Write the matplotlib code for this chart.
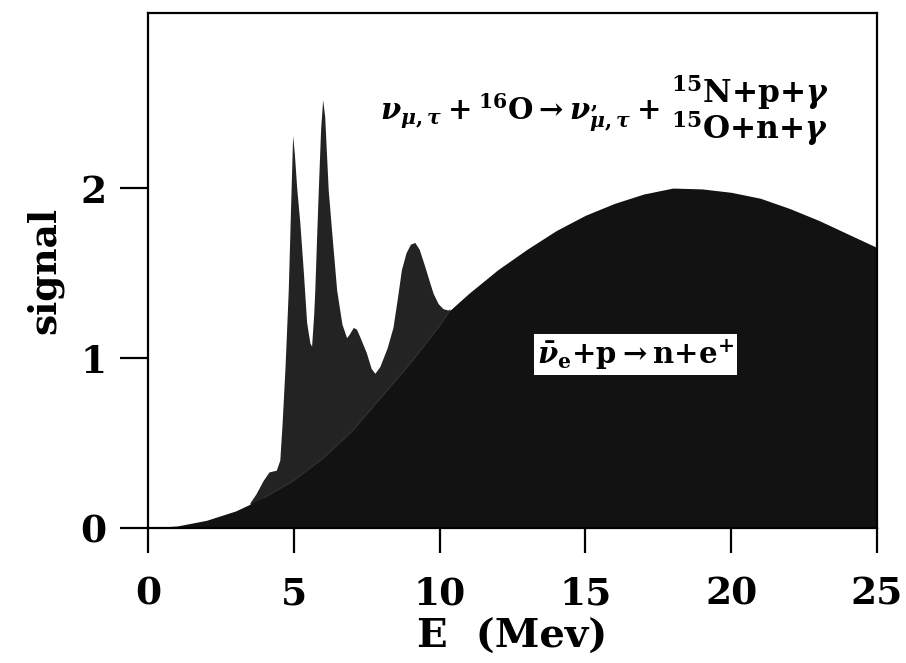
import matplotlib
matplotlib.use("Agg")
import matplotlib.pyplot as plt

# smooth inverse-beta background
bg_E = [0, 1, 2, 3, 3.5, 4, 5, 6, 7, 8, 9, 10, 10.35, 11, 12, 13, 14, 15, 16,
        17, 18, 19, 20, 21, 22, 23, 24, 25]
bg_val = [0, 0.012, 0.045, 0.10, 0.14, 0.18, 0.28, 0.41, 0.57, 0.77, 0.97, 1.19,
          1.28, 1.38, 1.52, 1.64, 1.75, 1.84, 1.91, 1.965, 2.0, 1.995, 1.975, 1.94,
          1.88, 1.81, 1.73, 1.65]

# total signal where the oxygen lines stick out
pk_E = [3.5, 3.7, 3.95, 4.15, 4.4, 4.52, 4.6, 4.7, 4.81, 4.9, 4.96, 5.02, 5.1,
        5.21, 5.33, 5.44, 5.55, 5.61, 5.68, 5.72, 5.78, 5.84, 5.92, 5.99, 6.06,
        6.18, 6.32, 6.47, 6.65, 6.81, 6.9, 7.04, 7.15, 7.3, 7.49, 7.65, 7.78,
        7.95, 8.2, 8.4, 8.55, 8.69, 8.85, 9.0, 9.15, 9.3, 9.49, 9.65, 9.78,
        9.95, 10.12, 10.35]
pk_val = [0.15, 0.2, 0.28, 0.33, 0.34, 0.40, 0.62, 0.95, 1.40, 1.95, 2.31, 2.2,
          2.0, 1.79, 1.50, 1.21, 1.09, 1.07, 1.25, 1.40, 1.70, 1.99, 2.35, 2.52,
          2.42, 1.99, 1.70, 1.40, 1.20, 1.12, 1.14, 1.18, 1.17, 1.11, 1.03, 0.94,
          0.91, 0.95, 1.06, 1.18, 1.35, 1.52, 1.62, 1.67, 1.68, 1.64, 1.54, 1.45,
          1.38, 1.32, 1.29, 1.28]

xticks = [0, 5, 10, 15, 20, 25]
yticks = [0, 1, 2]

plt.rcParams['font.family'] = 'DejaVu Serif'
plt.rcParams['font.weight'] = 'bold'
plt.rcParams['mathtext.fontset'] = 'custom'
plt.rcParams['mathtext.rm'] = 'DejaVu Serif:bold'
plt.rcParams['mathtext.it'] = 'DejaVu Serif:italic:bold'
plt.rcParams['mathtext.bf'] = 'DejaVu Serif:bold'

fig = plt.figure(figsize=(9.06, 6.63), dpi=100)
ax = fig.add_axes([148 / 906, 135 / 663, 729 / 906, 515 / 663])

ax.fill_between(pk_E, pk_val, color="#232323", lw=0)
ax.fill_between(bg_E, bg_val, color="#121212", lw=0)
ax.plot(bg_E[5:13], bg_val[5:13], color="#2e2e2e", lw=1.0)

ax.set_xlim(0, 25)
ax.set_ylim(0, 3.03)
ax.set_xticks(xticks)
ax.set_yticks(yticks)
for s in ax.spines.values():
    s.set_linewidth(1.6)
ax.tick_params(axis="x", direction="out", length=18, width=1.6, pad=16, labelsize=27)
ax.tick_params(axis="y", direction="out", length=20, width=1.6, pad=10, labelsize=27)
ax.set_xlabel("E  (Mev)", fontsize=29, fontweight="bold", labelpad=4)
ax.set_ylabel("signal", fontsize=27, fontweight="bold", labelpad=12)

ax.text(7.95, 2.4, r"$\nu_{\mu,\tau}+{}^{16}\mathrm{O}\rightarrow\nu^{,}_{\mu,\tau}+$",
        fontsize=21, va="baseline", ha="left")
ax.text(17.95, 2.5, r"${}^{15}\mathrm{N}{+}\mathrm{p}{+}\gamma$",
        fontsize=22.5, va="baseline", ha="left")
ax.text(17.95, 2.29, r"${}^{15}\mathrm{O}{+}\mathrm{n}{+}\gamma$",
        fontsize=22.5, va="baseline", ha="left")

ax.text(16.73, 1.02, r"$\bar{\nu}_{\mathrm{e}}{+}\mathrm{p}\rightarrow\mathrm{n}{+}\mathrm{e}^{+}$",
        fontsize=21, ha="center", va="center",
        bbox=dict(facecolor="white", edgecolor="none", pad=2))

fig.savefig("out.png", dpi=100)
